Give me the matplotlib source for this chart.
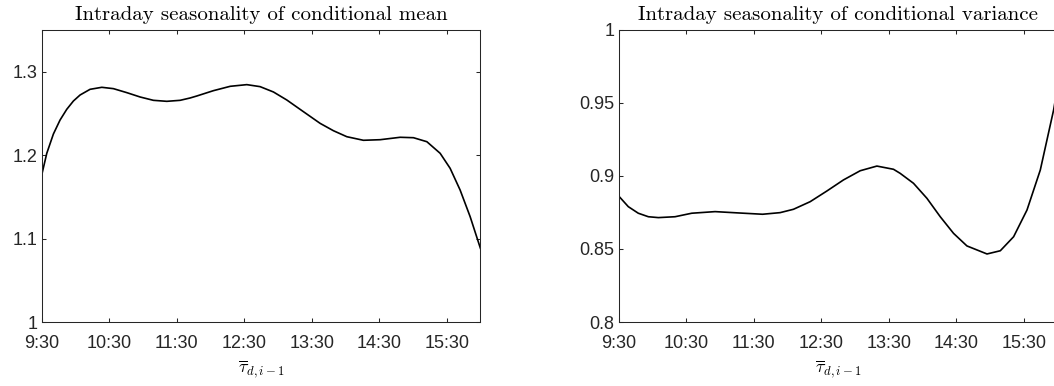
import matplotlib
matplotlib.use("Agg")
from matplotlib import pyplot as plt

# hours after midnight
t_mean = [9.5, 9.570, 9.668, 9.767, 9.866, 9.965, 10.064, 10.212, 10.386, 10.558,
          10.757, 10.954, 11.151, 11.35, 11.547, 11.695, 11.795, 12.042, 12.29,
          12.536, 12.733, 12.931, 13.129, 13.326, 13.524, 13.623, 13.82, 14.019,
          14.265, 14.513, 14.81, 15.007, 15.206, 15.403, 15.551, 15.699, 15.848, 16.0]
mean_vals = [1.178, 1.2022, 1.2253, 1.2421, 1.2549, 1.2649, 1.2721, 1.2789, 1.2813,
             1.2797, 1.2749, 1.2697, 1.2657, 1.2645, 1.2657, 1.2685, 1.2709, 1.2773,
             1.2825, 1.2845, 1.2821, 1.2757, 1.2661, 1.2549, 1.2437, 1.2381, 1.2293,
             1.2221, 1.2178, 1.2185, 1.2214, 1.2209, 1.2161, 1.2022, 1.1842, 1.1582,
             1.1262, 1.0883]

t_var = [9.5, 9.642, 9.79, 9.939, 10.087, 10.334, 10.581, 10.927, 11.272, 11.63,
         11.889, 12.087, 12.334, 12.581, 12.827, 13.075, 13.322, 13.568, 13.667,
         13.864, 14.063, 14.26, 14.457, 14.655, 14.952, 15.149, 15.346, 15.544,
         15.741, 15.938, 16.0]
var_vals = [0.8863, 0.879, 0.8745, 0.8721, 0.8715, 0.8721, 0.8745, 0.8756, 0.8747,
            0.8738, 0.8749, 0.8772, 0.8824, 0.8897, 0.8973, 0.9036, 0.9068, 0.9046,
            0.9018, 0.895, 0.8847, 0.8721, 0.8607, 0.8521, 0.8466, 0.8488, 0.8584,
            0.8767, 0.9041, 0.9452, 0.962]

tick_pos = [9.5, 10.5, 11.5, 12.5, 13.5, 14.5, 15.5]
tick_lab = ["9:30", "10:30", "11:30", "12:30", "13:30", "14:30", "15:30"]

plt.rcParams["mathtext.fontset"] = "cm"
axcol = "#262626"

fig = plt.figure(figsize=(10.54, 3.86), dpi=100)
ax1 = fig.add_axes([0.0399, 0.1658, 0.4159, 0.7565])
ax2 = fig.add_axes([0.587, 0.1658, 0.4166, 0.7565])


def style(ax, title):
    ax.set_xlim(9.5, 16.0)
    ax.set_xticks(tick_pos)
    ax.set_xticklabels(tick_lab)
    ax.tick_params(direction="in", top=True, right=True, length=3.2, width=0.75,
                   color=axcol, labelcolor=axcol, labelsize=13)
    ax.tick_params(axis="x", pad=9)
    ax.tick_params(axis="y", pad=3)
    for lab in ax.get_xticklabels() + ax.get_yticklabels():
        lab.set_family("Liberation Sans")
    for s in ax.spines.values():
        s.set_color(axcol)
        s.set_linewidth(0.75)
    ax.set_title(title, family="cmr10", fontsize=15, pad=7)
    ax.set_xlabel(r"$\overline{\tau}_{d,i-1}$", fontsize=13, labelpad=5)


ax1.plot(t_mean, mean_vals, color="black", lw=1.2, solid_joinstyle="round")
ax1.set_ylim(1, 1.35)
ax1.set_yticks([1, 1.1, 1.2, 1.3])
ax1.set_yticklabels(["1", "1.1", "1.2", "1.3"])
style(ax1, "Intraday seasonality of conditional mean")

ax2.plot(t_var, var_vals, color="black", lw=1.2, solid_joinstyle="round")
ax2.set_ylim(0.8, 1.0)
ax2.set_yticks([0.8, 0.85, 0.9, 0.95, 1.0])
ax2.set_yticklabels(["0.8", "0.85", "0.9", "0.95", "1"])
style(ax2, "Intraday seasonality of conditional variance")

plt.savefig("out.png", dpi=100)
